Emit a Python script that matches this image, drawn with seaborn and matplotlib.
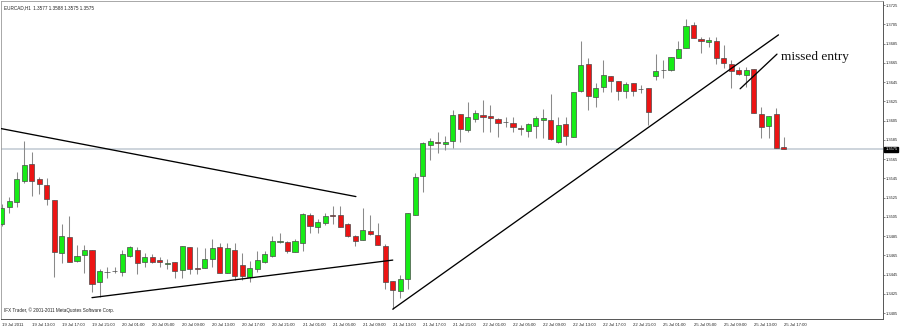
import numpy as np
import pandas as pd
import matplotlib
matplotlib.use("Agg")
import matplotlib.pyplot as plt
import matplotlib.transforms as mtransforms
import seaborn as sns

# ---------------- data (EURCAD, H1) ----------------
opens = [1.3497, 1.3515, 1.3520, 1.3542, 1.3560, 1.3544, 1.3538, 1.3522, 1.3467, 1.3484,
         1.3459, 1.3465, 1.3471, 1.3437, 1.3448, 1.3449, 1.3448, 1.3464, 1.3471, 1.3458,
         1.3463, 1.3460, 1.3456, 1.3458, 1.3450, 1.3474, 1.3452, 1.3452, 1.3461, 1.3474,
         1.3447, 1.3471, 1.3455, 1.3442, 1.3451, 1.3458, 1.3464, 1.3479, 1.3479, 1.3468,
         1.3478, 1.3507, 1.3494, 1.3499, 1.3507, 1.3507, 1.3498, 1.3485, 1.3481, 1.3490,
         1.3486, 1.3475, 1.3438, 1.3428, 1.3440, 1.3507, 1.3547, 1.3580, 1.3583, 1.3581,
         1.3584, 1.3612, 1.3595, 1.3607, 1.3611, 1.3610, 1.3607, 1.3603, 1.3602, 1.3597,
         1.3594, 1.3599, 1.3606, 1.3606, 1.3583, 1.3601, 1.3588, 1.3636, 1.3664, 1.3629,
         1.3640, 1.3651, 1.3646, 1.3636, 1.3644, 1.3638, 1.3639, 1.3651, 1.3657, 1.3658,
         1.3670, 1.3680, 1.3704, 1.3690, 1.3687, 1.3688, 1.3670, 1.3664, 1.3658, 1.3652,
         1.3659, 1.3612, 1.3599, 1.3612, 1.3577]
highs = [1.3518, 1.3526, 1.3552, 1.3584, 1.3572, 1.3546, 1.3545, 1.3522, 1.3498, 1.3506,
         1.3476, 1.3476, 1.3471, 1.3451, 1.3453, 1.3453, 1.3470, 1.3475, 1.3474, 1.3467,
         1.3466, 1.3463, 1.3461, 1.3458, 1.3475, 1.3474, 1.3474, 1.3473, 1.3482, 1.3478,
         1.3478, 1.3478, 1.3467, 1.3459, 1.3469, 1.3469, 1.3485, 1.3488, 1.3480, 1.3482,
         1.3509, 1.3509, 1.3503, 1.3509, 1.3516, 1.3516, 1.3499, 1.3486, 1.3514, 1.3507,
         1.3499, 1.3477, 1.3438, 1.3445, 1.3509, 1.3550, 1.3583, 1.3587, 1.3593, 1.3589,
         1.3616, 1.3612, 1.3624, 1.3616, 1.3626, 1.3621, 1.3608, 1.3609, 1.3609, 1.3600,
         1.3602, 1.3610, 1.3617, 1.3633, 1.3609, 1.3609, 1.3635, 1.3688, 1.3670, 1.3644,
         1.3668, 1.3651, 1.3646, 1.3645, 1.3644, 1.3642, 1.3639, 1.3674, 1.3668, 1.3671,
         1.3688, 1.3710, 1.3707, 1.3692, 1.3692, 1.3692, 1.3683, 1.3668, 1.3661, 1.3661,
         1.3659, 1.3619, 1.3610, 1.3618, 1.3588]
lows = [1.3495, 1.3509, 1.3515, 1.3540, 1.3527, 1.3529, 1.3517, 1.3442, 1.3457, 1.3458,
        1.3458, 1.3447, 1.3427, 1.3422, 1.3441, 1.3447, 1.3443, 1.3463, 1.3446, 1.3453,
        1.3457, 1.3453, 1.3451, 1.3441, 1.3441, 1.3446, 1.3446, 1.3452, 1.3453, 1.3447,
        1.3447, 1.3439, 1.3439, 1.3437, 1.3448, 1.3457, 1.3463, 1.3478, 1.3467, 1.3468,
        1.3469, 1.3488, 1.3488, 1.3496, 1.3498, 1.3494, 1.3484, 1.3475, 1.3481, 1.3486,
        1.3476, 1.3430, 1.3409, 1.3421, 1.3430, 1.3507, 1.3531, 1.3564, 1.3571, 1.3574,
        1.3576, 1.3583, 1.3593, 1.3603, 1.3593, 1.3593, 1.3588, 1.3598, 1.3593, 1.3590,
        1.3588, 1.3587, 1.3587, 1.3585, 1.3582, 1.3580, 1.3588, 1.3635, 1.3616, 1.3619,
        1.3635, 1.3635, 1.3626, 1.3628, 1.3631, 1.3634, 1.3600, 1.3647, 1.3649, 1.3656,
        1.3670, 1.3680, 1.3691, 1.3675, 1.3681, 1.3664, 1.3660, 1.3639, 1.3652, 1.3640,
        1.3613, 1.3587, 1.3587, 1.3576, 1.3575]
closes = [1.3514, 1.3521, 1.3544, 1.3559, 1.3542, 1.3539, 1.3523, 1.3468, 1.3485, 1.3458,
          1.3464, 1.3470, 1.3435, 1.3449, 1.3448, 1.3449, 1.3466, 1.3474, 1.3457, 1.3463,
          1.3458, 1.3458, 1.3457, 1.3449, 1.3475, 1.3451, 1.3451, 1.3461, 1.3473, 1.3447,
          1.3473, 1.3443, 1.3443, 1.3452, 1.3460, 1.3466, 1.3480, 1.3480, 1.3469, 1.3480,
          1.3508, 1.3495, 1.3500, 1.3506, 1.3506, 1.3494, 1.3485, 1.3480, 1.3491, 1.3487,
          1.3476, 1.3437, 1.3429, 1.3440, 1.3509, 1.3546, 1.3582, 1.3584, 1.3582, 1.3583,
          1.3611, 1.3596, 1.3609, 1.3613, 1.3609, 1.3608, 1.3602, 1.3603, 1.3598, 1.3596,
          1.3601, 1.3608, 1.3608, 1.3586, 1.3600, 1.3589, 1.3635, 1.3663, 1.3630, 1.3639,
          1.3652, 1.3646, 1.3636, 1.3643, 1.3636, 1.3638, 1.3614, 1.3656, 1.3658, 1.3671,
          1.3679, 1.3703, 1.3691, 1.3688, 1.3689, 1.3670, 1.3665, 1.3656, 1.3653, 1.3658,
          1.3613, 1.3598, 1.3610, 1.3576, 1.3575]

time_labels = ["19 Jul 2011", "19 Jul 13:00", "19 Jul 17:00", "19 Jul 21:00",
               "20 Jul 01:00", "20 Jul 05:00", "20 Jul 09:00", "20 Jul 13:00",
               "20 Jul 17:00", "20 Jul 21:00", "21 Jul 01:00", "21 Jul 05:00",
               "21 Jul 09:00", "21 Jul 13:00", "21 Jul 17:00", "21 Jul 21:00",
               "22 Jul 01:00", "22 Jul 05:00", "22 Jul 09:00", "22 Jul 13:00",
               "22 Jul 17:00", "22 Jul 21:00", "25 Jul 01:00", "25 Jul 05:00",
               "25 Jul 09:00", "25 Jul 13:00", "25 Jul 17:00"]

price_ticks = [1.3405, 1.3425, 1.3445, 1.3465, 1.3485, 1.3505, 1.3525, 1.3545, 1.3565,
               1.3585, 1.3605, 1.3625, 1.3645, 1.3665, 1.3685, 1.3705, 1.3725]

# drawn trend lines: (bar index, price) anchors
trend_bars = [[-1.0, 47.1], [12.0, 52.0], [52.0, 103.3], [98.2, 103.1]]
trend_prices = [[1.3598, 1.3526], [1.3421, 1.3460], [1.3409, 1.3694], [1.3638, 1.3674]]

note_text = "missed entry"
note_bar, note_price = 103.65, 1.3668

symbol_title = "EURCAD,H1  1.3577 1.3588 1.3575 1.3575"
copyright_text = "IFX Trader, \u00a9 2001-2011 MetaQuotes Software Corp."
last_price = closes[-1]

# ---------------- figure ----------------
sns.set_theme(style="white")
plt.rcParams["font.family"] = ["Liberation Sans", "DejaVu Sans"]

df = pd.DataFrame({"open": opens, "high": highs, "low": lows, "close": closes})
df["bar"] = np.arange(len(df))
df["up"] = df["close"] >= df["open"]

fig = plt.figure(figsize=(9.0, 3.27), dpi=100)
ax = fig.add_axes([1 / 900, 8 / 327, 882 / 900, 318 / 327])
ax.set_facecolor("white")

# current price line
ax.axhline(last_price, color="#c9d1d9", lw=1.3, zorder=1)

# wicks
ax.vlines(df["bar"], df["low"], df["high"], color="#8a8a8a", lw=0.75, zorder=2)

# bodies
bottoms = np.minimum(df["open"], df["close"])
heights = np.abs(df["close"] - df["open"])
colors = np.where(df["up"], "#16ec16", "#ec1414")
ax.bar(df["bar"], heights, bottom=bottoms, width=0.68, color=colors,
       edgecolor="#4a4a4a", linewidth=0.5, zorder=3)

# trend lines
for xs, ys in zip(trend_bars, trend_prices):
    sns.lineplot(x=xs, y=ys, color="black", lw=0.95, ax=ax, zorder=4,
                 sort=False, estimator=None)

ax.text(note_bar, note_price, note_text, family="Liberation Serif", fontsize=9.6,
        color="#111111", va="baseline", ha="left", zorder=5)

ax.set_xlim(-0.1, 117.2)
ax.set_ylim(1.33988, 1.37292)

# price axis on the right
ax.yaxis.tick_right()
ax.set_yticks(price_ticks)
ax.set_yticklabels([f"{p:.4f}" for p in price_ticks], fontsize=2.9, color="#222222")
ax.tick_params(axis="y", which="major", direction="out", length=1.3, width=0.5,
               color="#555555", pad=0.6, right=True, left=False)

# time axis
tick_pos = np.arange(0, len(df), 4)
ax.set_xticks(tick_pos)
ax.set_xticklabels(time_labels, fontsize=3.1, ha="left", color="#222222")
ax.tick_params(axis="x", which="major", direction="out", length=1.8, width=0.5,
               color="#555555", pad=1.0)

for side in ["left", "top"]:
    ax.spines[side].set_color("#9a9a9a")
    ax.spines[side].set_linewidth(0.6)
for side in ["right", "bottom"]:
    ax.spines[side].set_color("#555555")
    ax.spines[side].set_linewidth(0.7)

# current price box on the axis
trans = mtransforms.blended_transform_factory(ax.transAxes, ax.transData)
ax.text(1.0025, last_price, f"{last_price:.4f}", transform=trans, fontsize=2.9,
        color="white", va="center", ha="left", clip_on=False, zorder=6,
        bbox=dict(boxstyle="square,pad=0.2", fc="black", ec="black"))

# header and copyright
ax.text(0.003, 0.988, symbol_title, transform=ax.transAxes, fontsize=3.3,
        color="#222222", va="top", ha="left")
ax.text(0.003, 0.018, copyright_text, transform=ax.transAxes, fontsize=3.3,
        color="#222222", va="bottom", ha="left")

fig.savefig("out.png", dpi=100)
